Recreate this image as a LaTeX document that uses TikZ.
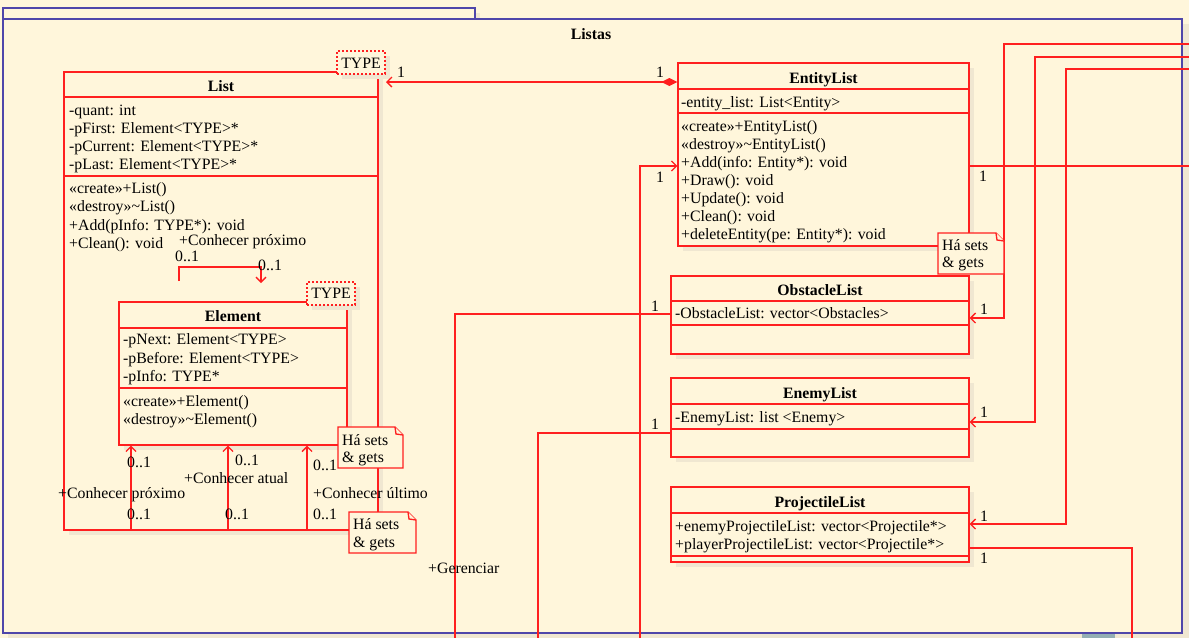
\documentclass[tikz,border=0pt]{standalone}
\usepackage{fontspec}
\setmainfont{Liberation Serif}
\usetikzlibrary{arrows.meta,fit}
\definecolor{bgc}{HTML}{FFF6DB}
\definecolor{shc}{HTML}{F0E7D1}
\definecolor{pkc}{HTML}{4F46AA}
\definecolor{lrc}{HTML}{FF1F1F}
\definecolor{sbc}{HTML}{93AEB4}
\tikzset{
 cls/.style={draw=lrc, fill=bgc, line width=1.3pt, inner sep=0pt},
 sepl/.style={draw=lrc, line width=1.3pt},
 tpl/.style={draw=lrc, fill=bgc, line width=1.1pt, dash pattern=on 2pt off 2pt},
 conn/.style={draw=lrc, line width=1.3pt},
 opn/.style={-{Straight Barb[length=5pt,width=10pt]}},
 tx/.style={anchor=base west, inner sep=0pt},
 ct/.style={anchor=base, inner sep=0pt},
 hd/.style={anchor=base, inner sep=0pt, font=\fontsize{15.8}{18}\selectfont\bfseries},
 pk/.style={draw=pkc, fill=bgc, line width=1.3pt},
 nt/.style={draw=lrc, fill=bgc, line width=1.3pt, line join=miter},
}
\newcommand\ushadow[4]{\fill[shc] (#1+5,#2+5) rectangle (#3+5,#4+5);}
\newcommand\unote[5]{%
 \draw[nt] (#2,#3) -- (#4-8,#3) -- (#4,#3+8) -- (#4,#5) -- (#2,#5) -- cycle;
 \draw[nt] (#4-8,#3) -- (#4-7,#3+7) -- (#4,#3+8);
 \node[fit={(#2,#3) (#4,#5)}, inner sep=0pt] (#1) {};}
\begin{document}
\begin{tikzpicture}[x=1pt,y=-1pt,font=\fontsize{15.8}{18}\selectfont]
\fill[bgc] (0,0) rectangle (1189,638);
\useasboundingbox (0,0) rectangle (1189,638);
% package
\fill[shc] (8,13) rectangle (480,24);
\fill[shc] (8,24) rectangle (1189,638);
\node[pk, fit={(3,8) (475,19)}, inner sep=0pt] (tab) {};
\node[pk, fit={(3,19) (1182,633)}, inner sep=0pt] (pkg) {};
\node[hd] (title) at (591,39) {Listas};
\fill[sbc] (1082,633.6) rectangle (1115,638);

% List
\ushadow{64}{72}{378}{530}
\node[cls, fit={(64,72) (378,530)}] (list) {};
\draw[sepl] (list.west |- 0,97) -- (list.east |- 0,97);
\draw[sepl] (list.west |- 0,176) -- (list.east |- 0,176);
\ushadow{337}{51}{385}{74}
\node[tpl, fit={(337,51) (385,74)}, inner sep=0pt] (ltpl) {};
\node[ct] (ltplT) at (361,68) {TYPE};
\node[hd] (listT) at (221,91) {List};
\node[tx] (la1) at (69,115) {-quant: int};
\node[tx] (la2) at (69,133) {-pFirst: Element<TYPE>*};
\node[tx] (la3) at (69,151) {-pCurrent: Element<TYPE>*};
\node[tx] (la4) at (69,169) {-pLast: Element<TYPE>*};
\node[tx] (lm1) at (69,193.5) {«create»+List()};
\node[tx] (lm2) at (69,211.5) {«destroy»\textasciitilde List()};
\node[tx] (lm3) at (69,230) {+Add(pInfo: TYPE*): void};
\node[tx] (lm4) at (69,248) {+Clean(): void};

% Element
\ushadow{119}{302}{347}{445}
\node[cls, fit={(119,302) (347,445)}] (el) {};
\draw[sepl] (el.west |- 0,328) -- (el.east |- 0,328);
\draw[sepl] (el.west |- 0,388) -- (el.east |- 0,388);
\ushadow{307}{282}{355}{305}
\node[tpl, fit={(307,282) (355,305)}, inner sep=0pt] (etpl) {};
\node[ct] (etplT) at (331,298) {TYPE};
\node[hd] (elT) at (233,321) {Element};
\node[tx] (ea1) at (123,344) {-pNext: Element<TYPE>};
\node[tx] (ea2) at (123,363) {-pBefore: Element<TYPE>};
\node[tx] (ea3) at (123,381.5) {-pInfo: TYPE*};
\node[tx] (em1) at (123,406) {«create»+Element()};
\node[tx] (em2) at (123,424) {«destroy»\textasciitilde Element()};

% EntityList
\ushadow{678}{63}{969}{246}
\node[cls, fit={(678,63) (969,246)}] (ent) {};
\draw[sepl] (ent.west |- 0,89) -- (ent.east |- 0,89);
\draw[sepl] (ent.west |- 0,113) -- (ent.east |- 0,113);
\node[hd] (entT) at (823.5,83) {EntityList};
\node[tx] (ena1) at (681,107) {-entity\_list: List<Entity>};
\node[tx] (enm1) at (681,131.5) {«create»+EntityList()};
\node[tx] (enm2) at (681,149.5) {«destroy»\textasciitilde EntityList()};
\node[tx] (enm3) at (681,167.5) {+Add(info: Entity*): void};
\node[tx] (enm4) at (681,185.5) {+Draw(): void};
\node[tx] (enm5) at (681,203.5) {+Update(): void};
\node[tx] (enm6) at (681,221.5) {+Clean(): void};
\node[tx] (enm7) at (681,239.5) {+deleteEntity(pe: Entity*): void};

% ObstacleList
\ushadow{671}{276}{969}{354}
\node[cls, fit={(671,276) (969,354)}] (obs) {};
\draw[sepl] (obs.west |- 0,301) -- (obs.east |- 0,301);
\draw[sepl] (obs.west |- 0,325) -- (obs.east |- 0,325);
\node[hd] (obsT) at (820,295) {ObstacleList};
\node[tx] (oba1) at (675,318) {-ObstacleList: vector<Obstacles>};

% EnemyList
\ushadow{671}{378}{969}{457}
\node[cls, fit={(671,378) (969,457)}] (en) {};
\draw[sepl] (en.west |- 0,404) -- (en.east |- 0,404);
\draw[sepl] (en.west |- 0,429) -- (en.east |- 0,429);
\node[hd] (enT) at (820,398) {EnemyList};
\node[tx] (ea) at (675,422) {-EnemyList: list <Enemy>};

% ProjectileList
\ushadow{671}{487}{969}{562}
\node[cls, fit={(671,487) (969,562)}] (pr) {};
\draw[sepl] (pr.west |- 0,513) -- (pr.east |- 0,513);
\draw[sepl] (pr.west |- 0,556) -- (pr.east |- 0,556);
\node[hd] (prT) at (820,507) {ProjectileList};
\node[tx] (pra1) at (675,531) {+enemyProjectileList: vector<Projectile*>};
\node[tx] (pra2) at (675,549) {+playerProjectileList: vector<Projectile*>};

% connectors
\coordinate (lt) at (386,82);
\draw[conn, {Diamond[length=16pt,width=8pt]}-{Straight Barb[length=5pt,width=10pt]}] (ent.west |- lt) -- (lt);
\coordinate (s1) at (179,281);
\coordinate (s2) at (261,283);
\draw[conn,opn] (s1) -- (179,267) -| (s2);
\draw[conn,opn] (list.south -| 131,0) -- (el.south -| 131,0);
\draw[conn,opn] (list.south -| 228,0) -- (el.south -| 228,0);
\draw[conn,opn] (list.south -| 307,0) -- (el.south -| 307,0);

\coordinate (r1) at (1189,44);
\coordinate (b1) at (1004,318);
\draw[conn,opn] (r1) -| (b1) -- (obs.east |- b1);
\coordinate (r2) at (1189,57);
\coordinate (b2) at (1035,422);
\draw[conn,opn] (r2) -| (b2) -- (en.east |- b2);
\coordinate (r3) at (1189,69);
\coordinate (b3) at (1066,524);
\draw[conn,opn] (r3) -| (b3) -- (pr.east |- b3);
\coordinate (r4) at (1189,166);
\draw[conn] (ent.east |- r4) -- (r4);
\coordinate (d1) at (1132,638);
\draw[conn] (pr.east |- 0,548) -| (d1);
\coordinate (d2) at (640,638);
\draw[conn,opn] (d2) |- (ent.west |- 0,166);
\coordinate (d3) at (455,638);
\draw[conn] (obs.west |- 0,314) -| (d3);
\coordinate (d4) at (538,638);
\draw[conn] (en.west |- 0,433) -| (d4);

% notes
\unote{n1}{338}{427}{403}{468}
\node[tx] (n1a) at (342,445) {Há sets};
\node[tx] (n1b) at (342,462) {\& gets};
\unote{n2}{349}{512}{416}{553}
\node[tx] (n2a) at (353,529) {Há sets};
\node[tx] (n2b) at (353,547) {\& gets};
\unote{n3}{938}{233}{1004}{274}
\node[tx] (n3a) at (942,250) {Há sets};
\node[tx] (n3b) at (942,267) {\& gets};

% labels
\node[ct] (m1) at (401,77) {1};
\node[ct] (m2) at (660,77) {1};
\node[tx] (sl1) at (179,245) {+Conhecer próximo};
\node[tx] (sl2) at (175,261) {0..1};
\node[tx] (sl3) at (258,270) {0..1};
\node[tx] (a1) at (127,467) {0..1};
\node[tx] (a2) at (235,465) {0..1};
\node[tx] (a3) at (313,470) {0..1};
\node[tx] (a4) at (127,519) {0..1};
\node[tx] (a5) at (225,519) {0..1};
\node[tx] (a6) at (313,519) {0..1};
\node[tx] (a7) at (184,483) {+Conhecer atual};
\node[tx] (a8) at (58,498) {+Conhecer próximo};
\node[tx] (a9) at (313,498) {+Conhecer último};
\node[ct] (m3) at (660,182) {1};
\node[ct] (m4) at (983,181) {1};
\node[ct] (m5) at (655,311) {1};
\node[ct] (m6) at (655,429) {1};
\node[ct] (m7) at (984,314) {1};
\node[ct] (m8) at (984,417) {1};
\node[ct] (m9) at (984,521) {1};
\node[ct] (m10) at (984,563) {1};
\node[tx] (ger) at (428,573) {+Gerenciar};
\end{tikzpicture}
\end{document}
